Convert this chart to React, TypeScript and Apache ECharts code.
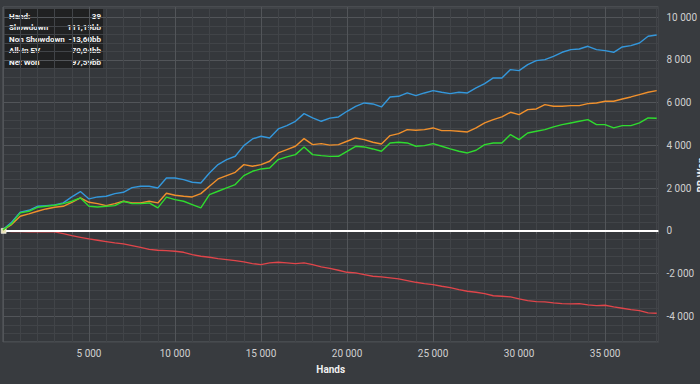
import React, { useEffect, useRef } from "react";
import * as echarts from "echarts";

const hands = [
  0, 500, 1000, 1500, 2000, 2500, 3000, 3500, 4000, 4500, 5000, 5500, 6000, 6500, 7000, 7500, 8000, 8500, 9000, 9500,
  10000, 10500, 11000, 11500, 12000, 12500, 13000, 13500, 14000, 14500, 15000, 15500, 16000, 16500, 17000, 17500, 18000, 18500, 19000, 19500,
  20000, 20500, 21000, 21500, 22000, 22500, 23000, 23500, 24000, 24500, 25000, 25500, 26000, 26500, 27000, 27500, 28000, 28500, 29000, 29500,
  30000, 30500, 31000, 31500, 32000, 32500, 33000, 33500, 34000, 34500, 35000, 35500, 36000, 36500, 37000, 37500, 38000,
];

const showdown = [
  60, 404, 872, 966, 1153, 1184, 1215, 1309, 1590, 1840, 1496, 1590, 1621, 1746, 1808, 2027, 2089, 2089, 2011, 2479,
  2479, 2401, 2276, 2245, 2713, 3103, 3337, 3493, 3992, 4304, 4429, 4351, 4772, 4928, 5131, 5490, 5287, 5131, 5280, 5334,
  5599, 5833, 5989, 5942, 5802, 6270, 6301, 6457, 6332, 6457, 6566, 6488, 6426, 6488, 6457, 6691, 6894, 7159, 7159, 7549,
  7502, 7783, 7970, 8017, 8173, 8360, 8485, 8516, 8641, 8485, 8438, 8360, 8610, 8672, 8797, 9109, 9171,
];

const allInEV = [
  50, 295, 685, 794, 919, 1028, 1106, 1153, 1340, 1543, 1340, 1278, 1184, 1278, 1387, 1309, 1309, 1387, 1309, 1760,
  1668, 1621, 1590, 1746, 2089, 2432, 2588, 2744, 3103, 3025, 3103, 3259, 3649, 3805, 3961, 4320, 4039, 4086, 4015, 4039,
  4195, 4351, 4273, 4148, 4070, 4460, 4554, 4741, 4710, 4741, 4819, 4694, 4694, 4663, 4632, 4819, 5053, 5209, 5334, 5552,
  5443, 5677, 5708, 5911, 5833, 5833, 5864, 5864, 5958, 5989, 6067, 6067, 6176, 6270, 6379, 6488, 6566,
];

const netWon = [
  50, 342, 841, 919, 1106, 1153, 1200, 1278, 1387, 1543, 1153, 1122, 1153, 1184, 1387, 1278, 1278, 1309, 1075, 1580,
  1465, 1387, 1231, 1075, 1699, 1855, 2011, 2167, 2588, 2791, 2900, 2947, 3337, 3462, 3571, 3930, 3571, 3524, 3490, 3493,
  3727, 3961, 3930, 3836, 3727, 4117, 4148, 4117, 3961, 3992, 4086, 3961, 3836, 3727, 3649, 3774, 4039, 4117, 4117, 4507,
  4273, 4585, 4663, 4741, 4866, 4975, 5053, 5131, 5209, 4975, 4975, 4819, 4928, 4928, 5053, 5287, 5272,
];

const nonShowdown = [
  0, -33, -33, -40, -48, -33, -48, -126, -220, -298, -376, -438, -501, -563, -610, -688, -766, -860, -906, -920,
  -953, -1000, -1109, -1187, -1234, -1296, -1343, -1390, -1452, -1530, -1577, -1499, -1468, -1499, -1530, -1499, -1577, -1686, -1755, -1842,
  -1936, -1967, -2045, -2123, -2154, -2201, -2248, -2326, -2404, -2466, -2513, -2591, -2653, -2747, -2825, -2872, -2934, -3035, -3059, -3090,
  -3184, -3262, -3308, -3324, -3371, -3402, -3418, -3402, -3465, -3496, -3480, -3558, -3621, -3683, -3730, -3839, -3854,
];

const infoLabels = ["Hand:", "Showdown", "Non Showdown", "All-In EV", "Net Won"];
const infoValues = ["39", "111,19bb", "-13,60bb", "70,04bb", "97,59bb"];
const cursorHand = 39;
const yAxisTitle = "BB Won";

const fmt = (v: number) => {
  const s = String(Math.abs(Math.round(v))).replace(/\B(?=(\d{3})+(?!\d))/g, " ");
  return (v < 0 ? "-" : "") + s;
};

const pairs = (ys: number[]) => hands.map((h, i) => [h, ys[i]]);

const MAJOR = "#525559";
const MINOR = "#414448";
const LABEL_FONT = "Roboto, sans-serif";
const INFO_FONT = "bold 8px Roboto, sans-serif";

export default function App() {
  const ref = useRef<HTMLDivElement>(null);
  useEffect(() => {
    if (!ref.current) return;
    const chart = echarts.init(ref.current, undefined, { renderer: "svg" });
    const infoChildren: any[] = [
      {
        type: "rect",
        shape: { x: 0, y: 0, width: 98, height: 59 },
        style: { fill: "rgba(30,31,33,0.92)" },
      },
    ];
    infoLabels.forEach((t, i) => {
      infoChildren.push({
        type: "text",
        x: 4,
        y: 7 + i * 11.5,
        style: { text: t, fill: "#f4f4f4", font: INFO_FONT, verticalAlign: "middle" },
      });
      infoChildren.push({
        type: "text",
        x: 96,
        y: 7 + i * 11.5,
        style: { text: infoValues[i], fill: "#f4f4f4", font: INFO_FONT, align: "right", verticalAlign: "middle" },
      });
    });

    chart.setOption({
      animation: false,
      backgroundColor: "#383b3f",
      grid: {
        left: 3,
        right: 38,
        top: 7,
        bottom: 42,
        show: true,
        backgroundColor: "#35383c",
        borderColor: "#5b5e62",
        borderWidth: 1,
      },
      xAxis: {
        type: "value",
        min: 0,
        max: 38100,
        interval: 1000,
        name: "Hands",
        nameLocation: "middle",
        nameGap: 22,
        nameTextStyle: { color: "#f0f0f0", fontWeight: "bold", fontSize: 10, fontFamily: LABEL_FONT },
        axisLine: { show: false },
        axisTick: { show: true, length: 3, lineStyle: { color: "#55585c" } },
        axisLabel: {
          interval: 0,
          color: "#d0d0d0",
          fontSize: 10,
          fontFamily: LABEL_FONT,
          margin: 6,
          formatter: (v: number) => (v > 0 && v % 5000 === 0 ? fmt(v) : ""),
        },
        splitLine: { show: true, lineStyle: { color: [MAJOR, MINOR, MINOR, MINOR, MINOR], width: 1 } },
      },
      yAxis: {
        type: "value",
        position: "right",
        min: -5200,
        max: 10480,
        interval: 400,
        axisLine: { show: false },
        axisTick: { show: false },
        axisLabel: {
          interval: 0,
          color: "#d0d0d0",
          fontSize: 10,
          fontFamily: LABEL_FONT,
          margin: 8,
          formatter: (v: number) => (Math.round(v) % 2000 === 0 ? fmt(v) : ""),
        },
        splitLine: { show: true, lineStyle: { color: [MINOR, MINOR, MINOR, MAJOR, MINOR], width: 1 } },
      },
      series: [
        {
          name: "Non Showdown",
          type: "line",
          data: pairs(nonShowdown),
          showSymbol: false,
          lineStyle: { color: "#e0454a", width: 1.3 },
          itemStyle: { color: "#e0454a" },
          z: 3,
          markLine: {
            silent: true,
            symbol: "none",
            label: { show: false },
            lineStyle: { color: "#ffffff", width: 2, type: "solid" },
            data: [{ yAxis: 0 }],
          },
        },
        {
          name: "Showdown",
          type: "line",
          data: pairs(showdown),
          showSymbol: false,
          lineStyle: { color: "#3497db", width: 1.4 },
          itemStyle: { color: "#3497db" },
          z: 4,
        },
        {
          name: "All-In EV",
          type: "line",
          data: pairs(allInEV),
          showSymbol: false,
          lineStyle: { color: "#f0902c", width: 1.4 },
          itemStyle: { color: "#f0902c" },
          z: 5,
        },
        {
          name: "Net Won",
          type: "line",
          data: pairs(netWon),
          showSymbol: false,
          lineStyle: { color: "#2fdb2f", width: 1.4 },
          itemStyle: { color: "#2fdb2f" },
          z: 6,
          markPoint: {
            silent: true,
            symbol: "rect",
            symbolSize: 5,
            label: { show: false },
            itemStyle: { color: "#e9e2b8", borderColor: "#ffffff", borderWidth: 0.5 },
            data: [{ coord: [cursorHand, 0] }],
          },
        },
      ],
      graphic: [
        {
          type: "group",
          left: 5,
          top: 9,
          z: 100,
          children: infoChildren,
        },
        {
          type: "text",
          x: 696,
          y: 175,
          rotation: Math.PI / 2,
          z: 100,
          style: {
            text: yAxisTitle,
            fill: "#f0f0f0",
            font: "bold 10px Roboto, sans-serif",
            align: "center",
            verticalAlign: "top",
          },
        },
      ],
    });
    return () => chart.dispose();
  }, []);
  return (
    <div
      ref={ref}
      style={{ position: "fixed", left: 0, top: 0, width: 700, height: 384 }}
    />
  );
}
